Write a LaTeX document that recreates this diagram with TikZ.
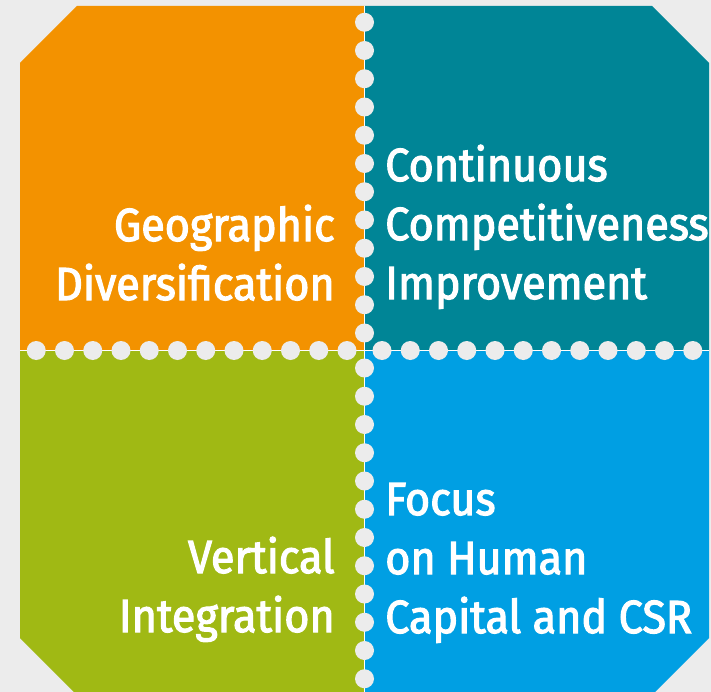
\documentclass[tikz,border=0pt]{standalone}
\usepackage{fontspec}
\setmainfont{Fira Sans}
\newfontfamily\quadfont{Fira Sans}[FakeBold=2.4, FakeStretch=0.93]
\usetikzlibrary{calc, positioning}

\definecolor{bgGray}{RGB}{236,236,236}
\definecolor{qOrange}{RGB}{243,146,0}
\definecolor{qTeal}{RGB}{0,133,150}
\definecolor{qGreen}{RGB}{160,185,20}
\definecolor{qBlue}{RGB}{0,159,227}

\begin{document}
\begin{tikzpicture}[x=0.75pt,y=0.75pt,yscale=-1,xscale=1,
    quadtext/.style={text=white,inner sep=0pt,font=\quadfont\fontsize{34.8}{44.25}\selectfont},
    perf/.style={fill=bgGray,draw=none}]
  % page and background
  \useasboundingbox (0,0) rectangle (711,692);
  \fill [bgGray] (0,0) rectangle (711,692);
  \coordinate (mid) at (364.5,350.5);

  % the four quadrants, clipped to the chamfered square
  \begin{scope}
    \clip (20,63) -- (77,6) -- (652,6) -- (709,63) -- (709,638) -- (652,695) -- (77,695) -- (20,638) -- cycle;
    \fill [qOrange] (0,0) rectangle (mid);
    \fill [qTeal] (711,0) rectangle (mid);
    \fill [qGreen] (0,700) rectangle (mid);
    \fill [qBlue] (711,700) rectangle (mid);
    % dividing lines
    \draw [white,line width=0.9pt] (mid |- 0,0) -- (mid |- 0,700);
    \draw [white,line width=0.9pt] (mid -| 0,0) -- (mid -| 711,0);
  \end{scope}

  % perforation dots along the dividing lines
  \foreach \k in {0,...,11}{
    \pgfmathsetmacro{\d}{17.5+28.25*\k}
    \fill [perf] ($(mid)+(0,-\d)$) circle [radius=9.5];
    \fill [perf] ($(mid)+(0,\d)$) circle [radius=9.5];
    \fill [perf] ($(mid)+(-\d,0)$) circle [radius=9.5];
    \fill [perf] ($(mid)+(\d,0)$) circle [radius=9.5];
  }

  % Text Node (base = last line)
  \node (geo) [quadtext,anchor=base east,align=right] at (335,300) {Geographic\\Diversification};
  % Text Node
  \node (cci) [quadtext,anchor=base west,align=left] at (385,299) {Continuous\\Competitiveness\\Improvement};
  % Text Node
  \node (vint) [quadtext,anchor=base east,align=right] at (335,632) {Vertical\\Integration};
  % Text Node
  \node (hcap) [quadtext,anchor=base west,align=left] at (385,633) {Focus\\on Human\\Capital and CSR};
\end{tikzpicture}
\end{document}
